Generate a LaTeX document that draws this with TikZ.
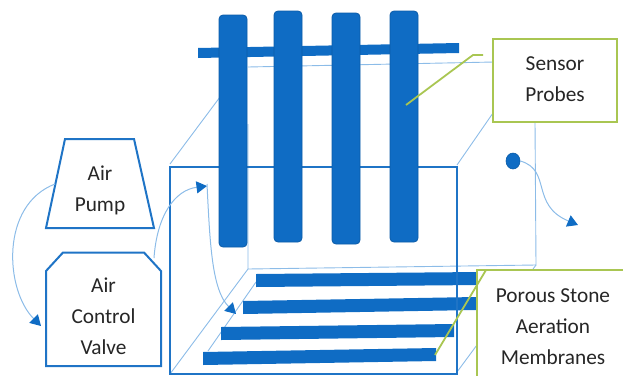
\documentclass[tikz,border=0pt]{standalone}
\usepackage{fontspec}
\setmainfont{Carlito}
\usetikzlibrary{arrows.meta,shapes.geometric}
\definecolor{tankblue}{HTML}{0F6CC4}
\definecolor{edgeblue}{HTML}{0B5CA8}
\definecolor{wallblue}{HTML}{1F74C6}
\definecolor{paleblue}{HTML}{8CBCE8}
\definecolor{calloutgreen}{HTML}{A9C652}
\tikzset{
  caption/.style={align=center,text=black!85,inner sep=0pt,font=\fontsize{21.3}{31}\selectfont},
  flow/.style={paleblue,line width=1pt,-{Triangle[length=10.5pt,width=12pt,color=tankblue]}},
  backedge/.style={paleblue,line width=0.9pt},
  callout/.style={calloutgreen,line width=1.8pt},
  panel/.style={line width=2pt,fill=white,inner sep=0pt,outer sep=0pt}
}
\begin{document}
\begin{tikzpicture}[x=1pt,y=-1pt]
\useasboundingbox (0,0) rectangle (623,375);
\draw[backedge] (248,124)--(248,269)--(536,265)--(535,122);
\draw[backedge] (220,97)--(170,164);
\draw[backedge] (248,67)--(494,62);
\draw[backedge] (493,113)--(457,165);
\draw[backedge] (248,269)--(170,374);
\draw[backedge] (536,265)--(457,372);
\draw[backedge] (256,282)--(208,351);
\fill[tankblue] (198,48)--(459,43)--(459,53)--(198,58)--cycle;
\foreach \x/\xx/\y/\yy in {256/480/274/272,243/476/301/297,221/454/327/324,203/436/352/348} {\fill[tankblue] (\x,\y)--(\xx,\yy)--(\xx,\yy+13)--(\x,\y+13)--cycle;}
\draw[wallblue,line width=2pt] (169.5,167) rectangle (456.5,373.5);
\foreach \x/\top/\bot in {219/15/247,274/11/242,332/13/244,390/11/242} {\draw[edgeblue,fill=tankblue,line width=0.8pt,rounded corners=4pt] (\x,\top) rectangle (\x+28,\bot);}
\draw[panel,draw=wallblue] (65,139)--(134,139)--(154,228)--(46,228)--cycle;
\node[caption] (pumptext) at (100,190) {Air\\Pump};
\draw[panel,draw=wallblue] (46,271)--(63,252.5)--(144,252.5)--(161,271)--(161,366)--(46,366)--cycle;
\node[caption] (valvetext) at (103.5,316) {Air\\Control\\Valve};
\node[panel,draw=calloutgreen,minimum width=124pt,minimum height=83pt] (sensorbox) at (555,80.5) {};
\node[caption] (sensortext) at (555,79) {Sensor\\Probes};
\node[panel,draw=calloutgreen,minimum width=152pt,minimum height=114pt] (porousbox) at (553,327) {};
\node[caption] (poroustext) at (553,327) {Porous Stone\\Aeration\\Membranes};
\node[ellipse,fill=tankblue,draw=edgeblue,line width=0.6pt,minimum width=14pt,minimum height=16pt,inner sep=0pt] (outlet) at (513,161) {};
\coordinate (pumpside) at (55,184);
\coordinate (valvetop) at (154,258);
\coordinate (inlet) at (207,186);
\coordinate (inletdown) at (207,184);
\coordinate (diffuser) at (236,314);
\coordinate (drain) at (578,225);
\coordinate (valveend) at (41,326);
\coordinate (probeend) at (406,105);
\coordinate (sensorend) at (483,55);
\coordinate (stoneend) at (435,355);
\coordinate (stonetop) at (486,270);
\draw[flow] (pumpside) .. controls (0,205) and (5,290) .. (valveend);
\draw[flow] (valvetop) .. controls (157,215) and (175,190) .. (inlet);
\draw[flow] (inletdown) .. controls (210,245) and (212,290) .. (diffuser);
\draw[flow] (outlet.east) .. controls (552,170) and (530,205) .. (drain);
\draw[callout] (probeend)--(473,55)--(sensorend);
\draw[callout] (stoneend)--(stonetop);
\end{tikzpicture}
\end{document}
